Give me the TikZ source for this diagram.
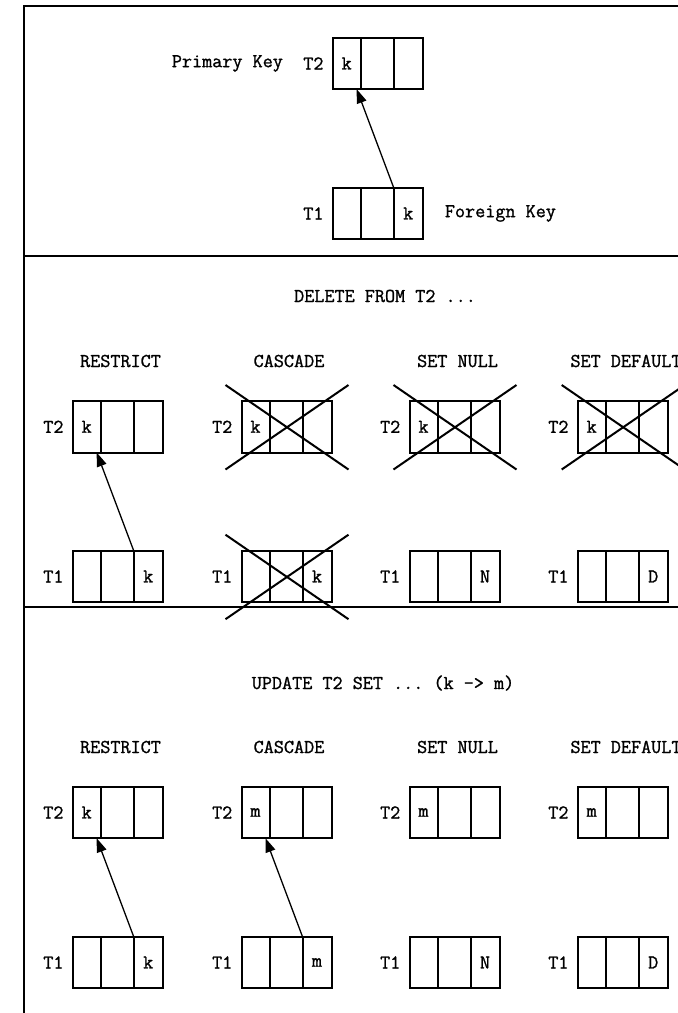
\documentclass[tikz,border=0pt]{standalone}
\usepackage{fontspec}
\setmonofont[FakeBold=1.2]{Latin Modern Mono}
\usetikzlibrary{arrows.meta}
\tikzset{
  txt/.style={inner sep=0pt,font=\fontsize{19.6}{22}\selectfont\ttfamily},
  cell/.style={txt,draw,line width=2pt,minimum height=51.5pt,outer sep=0pt,anchor=north west},
  frame/.style={line width=2pt},
  cross/.style={line width=2pt},
  fkarrow/.style={line width=1.3pt,-{Triangle[length=14pt,width=10pt]}}
}
\newcommand{\keyrow}[6]{%
  \node[cell,minimum width=28pt] (#1-1) at (#2,#3) {#5};
  \node[cell,minimum width=33pt] (#1-2) at (#1-1.north east) {};
  \node[cell,minimum width=29pt] (#1-3) at (#1-2.north east) {#6};
  \node[txt,anchor=east] (#1-lbl) at ([xshift=-9pt]#1-1.west) {#4};
}
\newcommand{\crossout}[1]{%
  \draw[cross] ([shift={(-16,-16)}]#1-1.north west) -- ([shift={(17,17)}]#1-3.south east);
  \draw[cross] ([shift={(-16,17)}]#1-1.south west) -- ([shift={(17,-16)}]#1-3.north east);
}
\begin{document}
\begin{tikzpicture}[x=1pt,y=-1pt]
  \useasboundingbox (0,0) rectangle (678,1013);
  \draw[frame] (23.5,1013) -- (23.5,6) -- (680,6);
  \draw[frame] (23.5,256) -- (680,256);
  \draw[frame] (23.5,607) -- (680,607);

  \keyrow{pk}{332.7}{37.7}{T2}{k}{}
  \keyrow{fk}{332.7}{187.7}{T1}{}{k}
  \node[txt,anchor=east] (pkname) at ([xshift=-20pt]pk-lbl.west) {Primary Key};
  \node[txt,anchor=west] (fkname) at ([xshift=22pt]fk-3.east) {Foreign Key};
  \draw[fkarrow] (fk-3.north west) -- ([xshift=-4pt]pk-1.south east);

  \node[txt,anchor=base] (deltitle) at (385,302) {DELETE FROM T2 ...};
  \node[txt,anchor=base] (delr) at (120.5,367) {RESTRICT};
  \node[txt,anchor=base] (delc) at (289,367) {CASCADE};
  \node[txt,anchor=base] (deln) at (457.5,367) {SET NULL};
  \node[txt,anchor=base] (deld) at (626,367) {SET DEFAULT};
  \keyrow{delr2}{72.7}{401}{T2}{k}{}
  \keyrow{delr1}{72.7}{550.7}{T1}{}{k}
  \keyrow{delc2}{241.5}{401}{T2}{k}{}
  \keyrow{delc1}{241.5}{550.7}{T1}{}{k}
  \keyrow{deln2}{409.5}{401}{T2}{k}{}
  \keyrow{deln1}{409.5}{550.7}{T1}{}{N}
  \keyrow{deld2}{577.7}{401}{T2}{k}{}
  \keyrow{deld1}{577.7}{550.7}{T1}{}{D}
  \draw[fkarrow] (delr1-3.north west) -- ([xshift=-4pt]delr2-1.south east);
  \crossout{delc2}
  \crossout{delc1}
  \crossout{deln2}
  \crossout{deld2}

  \node[txt,anchor=base] (updtitle) at (383,689) {UPDATE T2 SET ... (k -> m)};
  \node[txt,anchor=base] (updr) at (120.5,753) {RESTRICT};
  \node[txt,anchor=base] (updc) at (289,753) {CASCADE};
  \node[txt,anchor=base] (updn) at (457.5,753) {SET NULL};
  \node[txt,anchor=base] (updd) at (626,753) {SET DEFAULT};
  \keyrow{updr2}{72.7}{786.7}{T2}{k}{}
  \keyrow{updr1}{72.7}{936.7}{T1}{}{k}
  \keyrow{updc2}{241.5}{786.7}{T2}{m}{}
  \keyrow{updc1}{241.5}{936.7}{T1}{}{m}
  \keyrow{updn2}{409.5}{786.7}{T2}{m}{}
  \keyrow{updn1}{409.5}{936.7}{T1}{}{N}
  \keyrow{updd2}{577.7}{786.7}{T2}{m}{}
  \keyrow{updd1}{577.7}{936.7}{T1}{}{D}
  \draw[fkarrow] (updr1-3.north west) -- ([xshift=-4pt]updr2-1.south east);
  \draw[fkarrow] (updc1-3.north west) -- ([xshift=-4pt]updc2-1.south east);
\end{tikzpicture}
\end{document}
